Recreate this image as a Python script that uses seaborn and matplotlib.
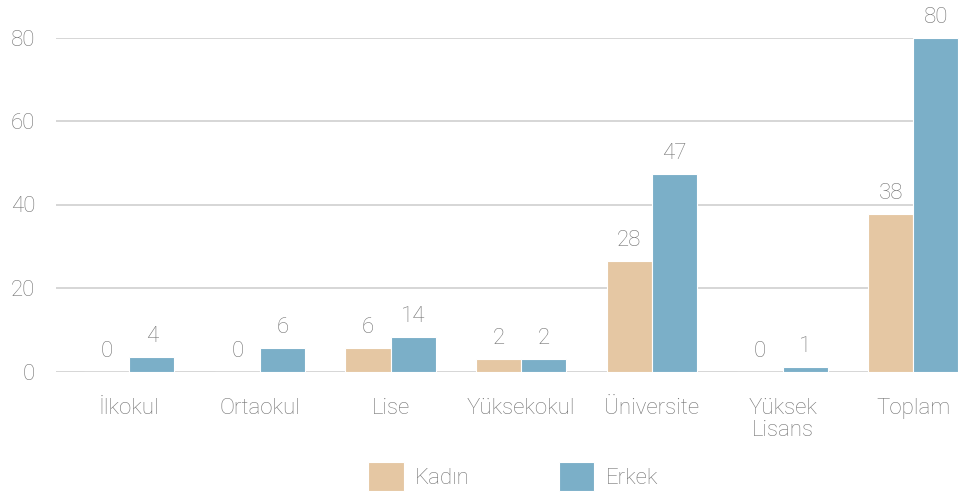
import pandas as pd
import matplotlib.pyplot as plt
import seaborn as sns

# Education level by gender
categories = ["İlkokul", "Ortaokul", "Lise", "Yüksekokul", "Üniversite", "Yüksek\nLisans", "Toplam"]
groups = ["Kadın", "Erkek"]
# bar heights as drawn in the picture
kadin_bar = [0, 0, 5.6, 3.0, 26.5, 0, 37.7]
erkek_bar = [3.5, 5.6, 8.3, 3.0, 47.4, 1.1, 80]
# value labels printed above the bars
kadin_text = [0, 0, 6, 2, 28, 0, 38]
erkek_text = [4, 6, 14, 2, 47, 1, 80]
y_ticks = [0, 20, 40, 60, 80]

colors = {"Kadın": "#E5C7A3", "Erkek": "#7BAFC8"}
gray = "#747474"

df = pd.DataFrame({
    "category": categories * 2,
    "group": ["Kadın"] * len(categories) + ["Erkek"] * len(categories),
    "value": kadin_bar + erkek_bar,
})

sns.set_theme(style="white")
plt.rcParams["font.family"] = ["Roboto", "DejaVu Sans"]
plt.rcParams["font.weight"] = "light"

fig = plt.figure(figsize=(9.59, 5), dpi=100)
ax = fig.add_axes([56 / 959, 0.257, 1 - 56 / 959, 0.668])

sns.barplot(data=df, x="category", y="value", hue="group", hue_order=groups,
            palette=colors, saturation=1, width=0.69, edgecolor="white",
            linewidth=0.8, ax=ax, zorder=3)

ax.set_ylim(0, 80)
ax.set_xlim(-0.56, 6.35)
ax.set_yticks(y_ticks)
ax.yaxis.grid(True, color="#d0d0d0", linewidth=1.2, zorder=0)
ax.xaxis.grid(False)
for s in ax.spines.values():
    s.set_visible(False)
ax.set_xlabel("")
ax.set_ylabel("")
ax.tick_params(axis="x", length=0, pad=19, labelsize=16, labelcolor=gray)
ax.tick_params(axis="y", length=0, pad=15, labelsize=16, labelcolor=gray)
for lbl in ax.get_xticklabels():
    lbl.set_verticalalignment("top")
    lbl.set_linespacing(1.1)

# value labels
for cont, texts in zip(ax.containers, [kadin_text, erkek_text]):
    for bar, t in zip(cont, texts):
        ax.annotate(str(t), (bar.get_x() + bar.get_width() / 2, bar.get_height()),
                    xytext=(0, 7), textcoords="offset points", ha="center", va="bottom",
                    fontsize=16, color=gray, annotation_clip=False)

handles, labels = ax.get_legend_handles_labels()
ax.legend_.remove()
fig.legend(handles, labels, loc="lower center", bbox_to_anchor=(0.535, -0.004),
           ncol=2, frameon=False, fontsize=16, labelcolor=gray,
           handlelength=1.6, handleheight=1.6, handletextpad=0.5,
           columnspacing=4.0, borderpad=0)

fig.savefig("out.png", dpi=100)
